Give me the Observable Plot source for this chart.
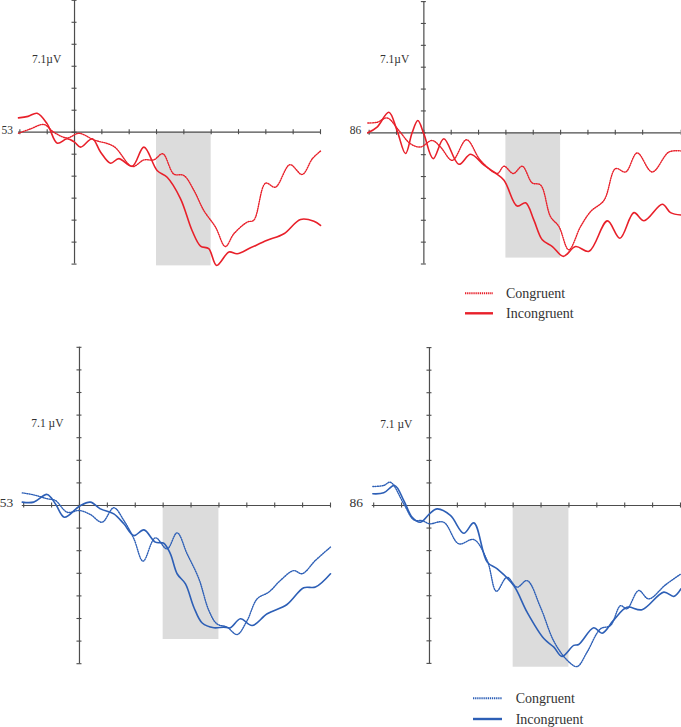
<!DOCTYPE html>
<html><head><meta charset="utf-8">
<script src="https://cdn.jsdelivr.net/npm/d3@7"></script>
<script src="https://cdn.jsdelivr.net/npm/@observablehq/plot@0.6"></script>
<style>
html,body{margin:0;padding:0;background:#fff;}
#root{position:relative;width:681px;height:727px;overflow:hidden;font-family:"Liberation Serif","Times New Roman",serif;}
.panel{position:absolute;}
</style></head><body><div id="root"></div>
<script>
// ---- data (time in ms, amplitude in axis-tick units) ----
const conditions = ["Congruent", "Incongruent"];
const red = "#e8202a", blue = "#2d5fb6";

// Top-left (channel 53, red)
const p1IncT = [-205,-170,-137,-100,-63,-27,0,22,65,95,132,162,211,254,302,339,388,430,461,491,520,565,595,644,705,766,827,876,900];
const p1IncV = [0.65,0.72,0.86,0.38,-0.5,-0.3,-0.45,-0.68,-0.3,-0.9,-1.41,-1.2,-1.55,-0.68,-1.74,-2.05,-3.03,-4.47,-5.18,-5.3,-6.06,-5.45,-5.53,-5.26,-4.92,-4.62,-3.97,-4.05,-4.24];
const p1ConT = [-205,-161,-112,-76,-27,16,71,144,211,254,290,323,363,400,437,473,516,552,583,632,656,699,735,788,833,870,900];
const p1ConV = [-0.05,0.15,0.35,0,-0.26,-0.05,-0.35,-0.65,-1.56,-1.26,-1.26,-0.98,-1.9,-1.97,-2.65,-3.56,-4.32,-5.2,-4.62,-4.09,-4.0,-2.32,-2.5,-1.48,-1.92,-1.21,-0.86];

// Top-right (channel 86, red)
const p2IncT = [-205,-171,-128,-98,-67,-43,-22,0,34,73,128,171,220,256,293,341,372,402,433,470,510,555,604,671,717,768,805,872,902,941];
const p2IncV = [0,0.26,0.94,0.1,-0.95,0,0.56,-0.05,-1.18,-0.27,-1.44,-0.98,-1.48,-1.79,-2.17,-3.35,-3.2,-3.98,-4.89,-5.2,-5.65,-5.2,-5.42,-4.03,-4.82,-3.65,-4.02,-3.27,-3.65,-3.76];
const p2ConT = [-205,-171,-134,-91,-49,-12,30,61,104,156,207,268,293,327,360,396,427,463,494,530,573,610,659,701,738,780,835,896,941];
const p2ConV = [0.45,0.48,0.68,0.1,-0.5,-0.65,-0.35,-0.65,-1.26,-0.32,-1.26,-1.86,-1.53,-1.86,-1.53,-2.29,-2.39,-3.83,-4.29,-5.35,-4.29,-3.6,-3.08,-1.64,-1.79,-0.92,-1.79,-0.88,-0.83];

// Bottom-left (channel 53, blue)
const p3IncT = [-205,-164,-116,-86,-54,0,39,75,123,159,195,231,272,302,326,350,380,410,440,482,517,541,577,619,673,744,804,846,900];
const p3IncV = [0.15,0.15,0.49,0.07,-0.52,-0.03,0.15,-0.15,-0.37,-0.81,-1.33,-1.08,-1.62,-1.67,-2.14,-3.02,-3.47,-4.5,-5.2,-5.41,-5.38,-5.41,-5.01,-5.31,-4.79,-4.38,-3.64,-3.61,-3.02];
const p3ConT = [-205,-164,-116,-86,-44,0,39,81,123,159,195,228,272,314,350,386,428,464,493,529,565,601,637,679,720,768,798,846,900];
const p3ConV = [0.56,0.47,0.3,0.22,-0.3,-0.22,-0.4,-0.74,-0.1,-0.66,-1.47,-2.46,-1.43,-1.92,-1.21,-2.14,-3.24,-4.65,-5.24,-5.38,-5.71,-5.09,-4.13,-3.83,-3.32,-2.88,-3.02,-2.43,-1.84];

// Bottom-right (channel 86, blue)
const p4IncT = [-203,-164,-125,-92,-62,-32,0,27,75,123,159,207,243,302,350,410,446,475,517,535,589,619,661,708,762,840,876,902];
const p4IncV = [0.52,0.56,0.89,0.22,-0.52,-0.74,-0.37,-0.15,-0.44,-1.23,-0.77,-2.51,-2.81,-3.55,-4.73,-5.9,-6.28,-6.69,-6.2,-6.16,-5.42,-5.66,-5.07,-4.51,-4.62,-3.84,-4.03,-3.69];
const p4ConT = [-203,-164,-140,-92,-56,-26,0,51,105,159,207,240,278,314,350,398,446,493,529,565,613,649,685,708,750,786,846,902];
const p4ConV = [0.84,0.89,1.03,0.07,-0.64,-0.67,-0.81,-0.74,-1.7,-1.51,-2.44,-3.8,-3.18,-3.62,-3.33,-4.51,-6.02,-6.85,-7.14,-6.5,-5.47,-5.32,-4.44,-4.58,-3.77,-4.14,-3.52,-3.03];

// ticks
const xTicksFull = [-200,-100,0,100,200,300,400,500,600,700,800,900];
const xTicksP2 = [-200,-100,0,100,200,300,400,500,600,700,800,941];
const yTicks6 = [-6,-5,-4,-3,-2,-1,0,1,2,3,4,5,6];
const yTicks7 = [-7,-6,-5,-4,-3,-2,-1,0,1,2,3,4,5,6,7];
const shadeWindow = [300, 500];
const unitTop = "7.1\u00b5V", unitBottom = "7.1 \u00b5V";

const root = document.getElementById("root");
const axisColor = "#4d4d4d";

function panel(cfg) {
  const xs = d3.scaleLinear(cfg.xDomain, cfg.xRange);
  const ys = d3.scaleLinear(cfg.yDomain, cfg.yRange);
  const tkY = Math.abs(ys.invert(0) - ys.invert(2.5));
  const tkX = Math.abs(xs.invert(2.5) - xs.invert(0));
  const con = cfg.conT.map((t, i) => ({t, v: cfg.conV[i], cond: conditions[0]}));
  const inc = cfg.incT.map((t, i) => ({t, v: cfg.incV[i], cond: conditions[1]}));
  const shade = [{start: shadeWindow[0], end: shadeWindow[1], bottom: cfg.shadeBottom}];
  const svg = Plot.plot({
    width: cfg.width, height: cfg.height,
    marginLeft: 0, marginRight: 0, marginTop: 0, marginBottom: 0,
    x: {domain: cfg.xDomain, range: cfg.xRange, axis: null},
    y: {domain: cfg.yDomain, range: cfg.yRange, axis: null},
    style: {background: "transparent", overflow: "visible", fontFamily: "'Liberation Serif', serif"},
    marks: [
      Plot.rect(shade, {x1: "start", x2: "end", y1: 0, y2: "bottom", fill: "#dcdcdc"}),
      Plot.ruleY([0], {x1: cfg.xDomain[0], x2: cfg.xDomain[1], stroke: axisColor, strokeWidth: 1.2}),
      Plot.ruleX([0], {y1: cfg.yDomain[0], y2: cfg.yDomain[1], stroke: axisColor, strokeWidth: 1.2}),
      Plot.ruleX(cfg.xTicks, {x: d => d, y1: -tkY, y2: tkY, stroke: axisColor, strokeWidth: 1.1}),
      Plot.ruleY(cfg.yTicks, {y: d => d, x1: -tkX, x2: tkX, stroke: axisColor, strokeWidth: 1.1}),
      Plot.line(con, {x: "t", y: "v", stroke: cfg.color, strokeWidth: 1.4, strokeDasharray: "1 1.3", curve: "catmull-rom"}),
      Plot.line(inc, {x: "t", y: "v", stroke: cfg.color, strokeWidth: 1.6, curve: "catmull-rom"}),
      Plot.text([cfg.unit], {x: cfg.unitPos[0], y: cfg.unitPos[1], text: d => d, fontSize: 11.5, fill: "#333", textAnchor: "middle", lineAnchor: "middle"}),
      Plot.text([cfg.chan], {x: cfg.chanPos[0], y: cfg.chanPos[1], text: d => d, fontSize: cfg.chanSize, fill: "#333", textAnchor: "end", lineAnchor: "middle"})
    ]
  });
  svg.classList.add("panel");
  svg.style.left = cfg.left + "px";
  svg.style.top = cfg.top + "px";
  svg.style.position = "absolute";
  root.appendChild(svg);
}

panel({left: 0, top: 0, width: 340, height: 280, xDomain: [-205, 900], xRange: [18, 320],
  yDomain: [-6, 6], yRange: [263.6, -0.2], xTicks: xTicksFull, yTicks: yTicks6, shadeBottom: -6.08,
  conT: p1ConT, conV: p1ConV, incT: p1IncT, incV: p1IncV, color: red,
  unit: unitTop, unitPos: [-102, 3.33], chan: "53", chanPos: [-225, 0.08], chanSize: 11.5});

panel({left: 340, top: 0, width: 341, height: 280, xDomain: [-205, 941], xRange: [27.3, 340.7],
  yDomain: [-6, 6], yRange: [263.5, 1.1], xTicks: xTicksP2, yTicks: yTicks6, shadeBottom: -5.73,
  conT: p2ConT, conV: p2ConV, incT: p2IncT, incV: p2IncV, color: red,
  unit: unitTop, unitPos: [-107, 3.35], chan: "86", chanPos: [-229, 0.13], chanSize: 11.5});

panel({left: 0, top: 340, width: 340, height: 340, xDomain: [-205, 900], xRange: [21.8, 330],
  yDomain: [-7, 7], yRange: [323.2, 6.8], xTicks: xTicksFull, yTicks: yTicks7, shadeBottom: -5.93,
  conT: p3ConT, conV: p3ConV, incT: p3IncT, incV: p3IncV, color: blue,
  unit: unitBottom, unitPos: [-115, 3.62], chan: "53", chanPos: [-237, 0.13], chanSize: 13.5});

panel({left: 340, top: 340, width: 341, height: 340, xDomain: [-205, 900], xRange: [31.8, 340],
  yDomain: [-7, 7], yRange: [322.9, 7.1], xTicks: xTicksFull, yTicks: yTicks7, shadeBottom: -7.17,
  conT: p4ConT, conV: p4ConV, incT: p4IncT, incV: p4IncV, color: blue,
  unit: unitBottom, unitPos: [-119, 3.62], chan: "86", chanPos: [-238, 0.12], chanSize: 13.5});

// legends
function legend(x1, x2, yRows, tx, color) {
  const svg = d3.create("svg").attr("width", 681).attr("height", 727)
    .style("position", "absolute").style("left", "0px").style("top", "0px").style("overflow", "visible");
  conditions.forEach((c, i) => {
    svg.append("line").attr("x1", x1).attr("x2", x2).attr("y1", yRows[i]).attr("y2", yRows[i])
      .attr("stroke", color).attr("stroke-width", i === 0 ? 2 : 2.4)
      .attr("stroke-dasharray", i === 0 ? "1.3 0.8" : null);
    svg.append("text").attr("x", tx).attr("y", yRows[i]).attr("dy", "0.35em")
      .attr("font-size", 14).attr("fill", "#333")
      .attr("font-family", "'Liberation Serif', serif").text(c);
  });
  root.appendChild(svg.node());
}
legend(465, 493, [293.3, 313.3], 506, red);
legend(473, 502, [698.3, 719], 515.7, blue);
</script></body></html>
